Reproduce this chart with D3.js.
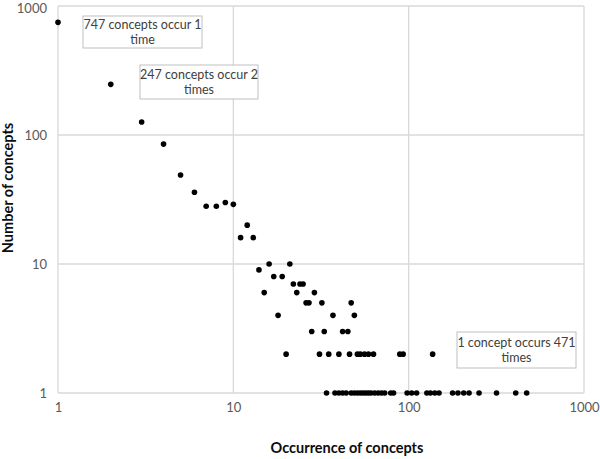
<!DOCTYPE html>
<meta charset="utf-8">
<script src="https://d3js.org/d3.v7.min.js"></script>
<style>
  body { margin: 0; background: #fff; }
  text { font-family: Lato, "Liberation Sans", sans-serif; }
</style>
<div id="chart"></div>
<script>
// occurrence (x) and number of concepts (y)
var occurrence = [1, 2, 3, 4, 5, 6, 7, 8, 9, 10, 11, 12, 13, 14, 15, 16, 17, 18, 19, 20,
  21, 22, 23, 24, 25, 26, 27, 28, 29, 31, 32, 33, 35, 37, 40, 42, 45, 46, 47, 49,
  51, 53, 56, 59, 63, 89, 93, 137,
  34, 38, 40, 42, 44, 47, 49, 51, 53, 55, 57, 59, 61, 64, 67, 70, 73, 79, 82,
  98, 104, 111, 127, 133, 141, 149, 178, 191, 206, 221, 252, 317, 408, 471];
var concepts = [747, 247, 126, 85, 49, 36, 28, 28, 30, 29, 16, 20, 16, 9, 6, 10, 8, 4, 8, 2,
  10, 7, 6, 7, 7, 5, 5, 3, 6, 2, 5, 3, 2, 4, 2, 3, 3, 2, 5, 4,
  2, 2, 2, 2, 2, 2, 2, 2,
  1, 1, 1, 1, 1, 1, 1, 1, 1, 1, 1, 1, 1, 1, 1, 1, 1, 1, 1,
  1, 1, 1, 1, 1, 1, 1, 1, 1, 1, 1, 1, 1, 1, 1];
var tickValues = [1, 10, 100, 1000];
var notes = [
  {lines: ["747 concepts occur 1", "time"]},
  {lines: ["247 concepts occur 2", "times"]},
  {lines: ["1 concept occurs 471", "times"]}
];

var data = occurrence.map(function (d, i) { return {x: d, y: concepts[i]}; });

var width = 600, height = 459;
var margin = {top: 6, right: 16, bottom: 66, left: 58};

var svg = d3.select("#chart").append("svg")
  .attr("width", width)
  .attr("height", height);

var x = d3.scaleLog().domain([1, 1000]).range([margin.left, width - margin.right]);
var y = d3.scaleLog().domain([1, 1000]).range([height - margin.bottom, margin.top]);

// gridlines
svg.append("g").selectAll("line")
  .data(tickValues)
  .enter().append("line")
    .attr("x1", x(1)).attr("x2", x(1000))
    .attr("y1", function (d) { return y(d); })
    .attr("y2", function (d) { return y(d); })
    .attr("stroke", "#d9d9d9")
    .attr("stroke-width", 1.3);
svg.append("g").selectAll("line")
  .data(tickValues)
  .enter().append("line")
    .attr("y1", y(1)).attr("y2", y(1000))
    .attr("x1", function (d) { return x(d); })
    .attr("x2", function (d) { return x(d); })
    .attr("stroke", "#d9d9d9")
    .attr("stroke-width", 1.3);

// X axis
var xAxis = svg.append("g")
  .attr("transform", "translate(0," + (height - margin.bottom) + ")")
  .call(d3.axisBottom(x).tickValues(tickValues).tickFormat(d3.format("d")).tickSize(0).tickPadding(10));
xAxis.select(".domain").remove();

// Y axis
var yAxis = svg.append("g")
  .attr("transform", "translate(" + margin.left + ",0)")
  .call(d3.axisLeft(y).tickValues(tickValues).tickFormat(d3.format("d")).tickSize(0).tickPadding(11));
yAxis.select(".domain").remove();
// keep the top label inside the picture
yAxis.selectAll(".tick text").filter(function (d) { return d === 1000; })
  .attr("dy", "0.5em");

svg.selectAll(".tick text")
  .attr("fill", "#595959")
  .style("font-size", "13px")
  .style("font-family", "Lato, sans-serif");

// axis titles
svg.append("text")
  .attr("text-anchor", "middle")
  .attr("x", 347)
  .attr("y", 453)
  .style("font-size", "14.5px")
  .style("font-weight", "bold")
  .attr("fill", "#0d0d0d")
  .text("Occurrence of concepts");

svg.append("text")
  .attr("text-anchor", "middle")
  .attr("transform", "translate(13,188) rotate(-90)")
  .style("font-size", "14.5px")
  .style("font-weight", "bold")
  .attr("fill", "#0d0d0d")
  .text("Number of concepts");

// dots
svg.append("g").selectAll("circle")
  .data(data)
  .enter().append("circle")
    .attr("cx", function (d) { return x(d.x); })
    .attr("cy", function (d) { return y(d.y); })
    .attr("r", 2.8)
    .style("fill", "#000");

// annotation boxes
var boxPos = [
  {left: 83, top: 16, w: 119, h: 32},
  {left: 140, top: 65, w: 118, h: 34},
  {left: 457, top: 332, w: 119, h: 36}
];
notes.forEach(function (n, i) {
  var b = boxPos[i];
  var g = svg.append("g");
  g.append("rect")
    .attr("x", b.left).attr("y", b.top)
    .attr("width", b.w).attr("height", b.h)
    .attr("fill", "#fff")
    .attr("stroke", "#bfbfbf");
  n.lines.forEach(function (t, j) {
    g.append("text")
      .attr("x", b.left + b.w / 2)
      .attr("y", b.top + b.h / 2 - 7.5 + j * 15.5)
      .attr("dy", "0.35em")
      .attr("text-anchor", "middle")
      .attr("fill", "#404040")
      .style("font-size", "12.5px")
      .text(t);
  });
});
</script>
